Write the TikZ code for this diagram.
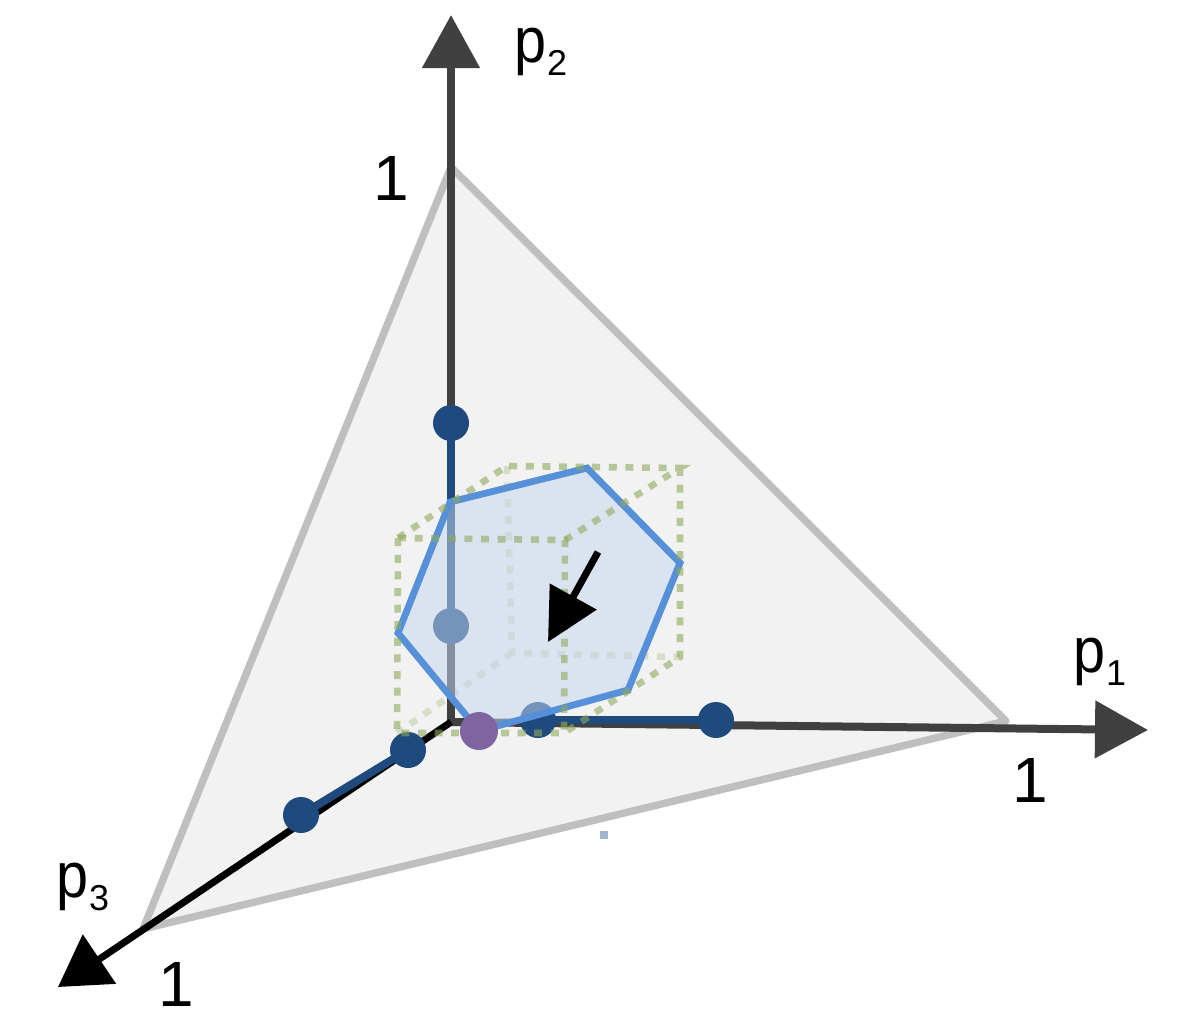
\documentclass[tikz,border=0pt]{standalone}
\usepackage{fontspec}
\setmainfont{Liberation Sans}
\usetikzlibrary{arrows.meta}
\definecolor{axisgray}{HTML}{404040}
\definecolor{simplexline}{HTML}{BFBFBF}
\definecolor{simplexfill}{HTML}{F2F2F2}
\definecolor{dotblue}{HTML}{1F4A7E}
\definecolor{hexline}{HTML}{5590D8}
\definecolor{hexfill}{HTML}{C5D6F0}
\definecolor{cubegreen}{HTML}{8FAA5E}
\definecolor{dotpurple}{HTML}{8064A2}
\definecolor{markblue}{HTML}{9FB4D0}
\newcommand{\plabel}[1]{\scalebox{0.9}[1]{p}\raisebox{-6.5pt}{\fontsize{18}{18}\selectfont #1}}
\tikzset{
  axisline/.style={line width=4pt, -{Triangle[length=26.5pt, width=28pt]}},
  interval/.style={line width=4pt, dotblue},
  dot/.style={circle, fill=dotblue, inner sep=0pt, minimum size=18pt},
  cubeedge/.style={line width=3.3pt, cubegreen, dash pattern=on 4pt off 4.3pt},
  lbl/.style={inner sep=0pt, font=\fontsize{32}{38}\selectfont}
}

\begin{document}
\begin{tikzpicture}[x=0.5pt,y=-0.5pt]
\useasboundingbox (0,0) rectangle (1178,1019);
\coordinate (origin) at (451,722);
\coordinate (ptwotip) at (451,15);
\coordinate (ponetip) at (1148,730);
\coordinate (pthreetip) at (58,987);
\coordinate (vtop) at (451,167);
\coordinate (vright) at (1006,721);
\coordinate (vleft) at (143,929);
\draw[line width=3.7pt, simplexline, fill=simplexfill, line join=round] (vtop) -- (vright) -- (vleft) -- cycle;
% cube
\coordinate (ftl) at (398,538);
\coordinate (ftr) at (565,540);
\coordinate (fbr) at (564,733);
\coordinate (fbl) at (397,733);
\coordinate (btl) at (507,466);
\coordinate (btr) at (680,468);
\coordinate (bbr) at (680,657);
\coordinate (bbl) at (512,653);
\draw[cubeedge, opacity=0.28] (btl) -- (bbl) -- (bbr) (bbl) -- (fbl);
\draw[axisline, axisgray] (origin) -- (ptwotip);
\draw[axisline, axisgray] (origin) -- (ponetip);
\draw[axisline, black, line width=3.5pt, -{Triangle[length=25pt, width=29pt]}] (origin) -- (pthreetip);
\node[dot] (ptwohi) at (451,423) {};
\node[dot] (ptwolo) at (451,626) {};
\node[dot] (ponelo) at (538,720) {};
\node[dot] (ponehi) at (716,720) {};
\node[dot] (pthreelo) at (408,750) {};
\node[dot] (pthreehi) at (301,815) {};
\draw[interval] (ptwohi.center) -- (ptwolo.center);
\draw[interval] (ponelo.center) -- (ponehi.center);
\draw[interval] (pthreelo.center) -- (pthreehi.center);
% hexagon
\coordinate (hone) at (450,502);
\coordinate (htwo) at (587,468);
\coordinate (hthree) at (680,563);
\coordinate (hfour) at (628,690);
\coordinate (hfive) at (479,731);
\coordinate (hsix) at (398,633);
\fill[hexfill, fill opacity=0.53] (hone) -- (htwo) -- (hthree) -- (hfour) -- (hfive) -- (hsix) -- cycle;
\draw[hexline, line width=3.4pt, line join=miter] (hone) -- (htwo) -- (hthree) -- (hfour) -- (hfive) -- (hsix) -- cycle;
\draw[cubeedge, opacity=0.6] (ftl) -- (ftr) -- (fbr) -- (fbl) -- cycle;
\draw[cubeedge, opacity=0.6] (ftl) -- (btl) -- (btr) -- (ftr) (btr) -- (bbr) -- (fbr);
\coordinate (stepfrom) at (598,552);
\coordinate (stepto) at (548,642);
\draw[line width=3.5pt, -{Triangle[length=26pt, width=26pt]}] (stepfrom) -- (stepto);
\node[dot, fill=dotpurple, minimum size=19pt] (center) at (479,731) {};
\node[lbl] (ptwolbl) at (541,52) {\plabel{2}};
\node[lbl] (ponelbl) at (1100,662) {\plabel{1}};
\node[lbl] (pthreelbl) at (83,887) {\plabel{3}};
\node[lbl] (ptwoone) at (391,178) {1};
\node[lbl] (poneone) at (1030,780) {1};
\node[lbl] (pthreeone) at (176,984) {1};
\fill[markblue] (600,831) rectangle (608,839);
\end{tikzpicture}
\end{document}
